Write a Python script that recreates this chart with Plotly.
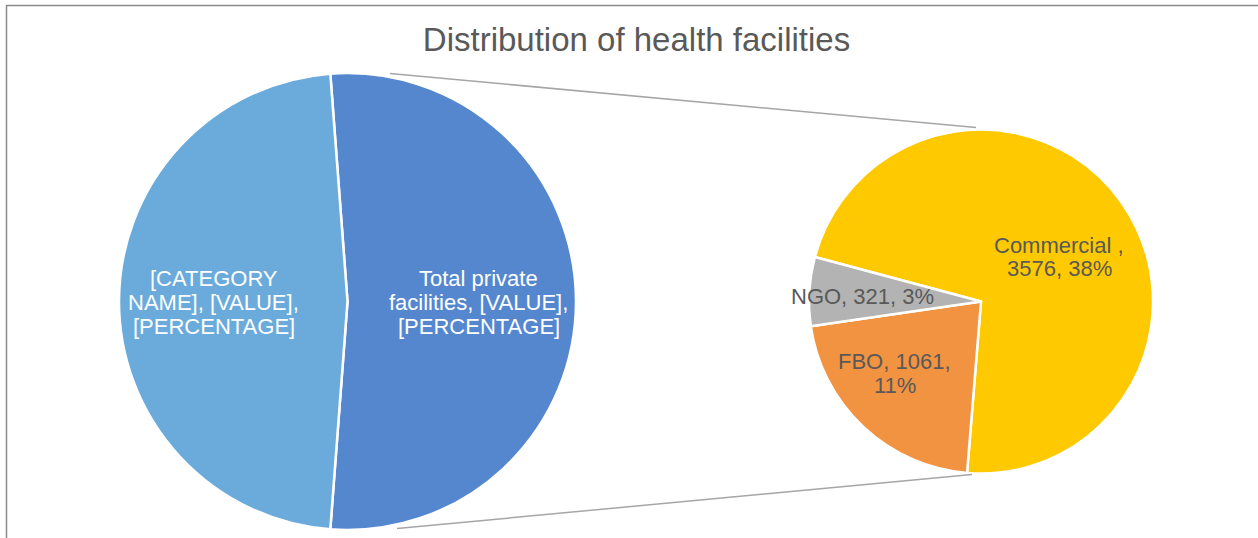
import plotly.graph_objects as go

# ---- data ----
main_labels = ["Total private facilities", "[CATEGORY NAME]"]
main_text_lines = [["Total private", "facilities, [VALUE],", "[PERCENTAGE]"],
                   ["[CATEGORY", "NAME], [VALUE],", "[PERCENTAGE]"]]
public_value = 4504
sub_labels = ["Commercial ", "FBO", "NGO"]
sub_values = [3576, 1061, 321]

private_total = sum(sub_values)
main_values = [private_total, public_value]
grand_total = sum(main_values)

W, H = 1258, 538
def px(x): return x / W
def py(y): return 1 - y / H

main_colors = ["#5587CF", "#6AABDC"]
sub_colors = ["#FFC900", "#F29342", "#B3B3B3"]
FONT = "Liberation Sans, Arial, sans-serif"

# pie geometry (pixels)
L_x0, L_x1, L_y0, L_y1 = 119, 576, 73, 530
R_x0, R_x1, R_y0, R_y1 = 809, 1153, 129.5, 473.5

private_share = private_total / grand_total
fig = go.Figure()
fig.add_trace(go.Pie(
    labels=main_labels, values=main_values, sort=False, direction="clockwise",
    rotation=90 - 180 * private_share,
    marker=dict(colors=main_colors, line=dict(color="white", width=2.5)),
    textinfo="none", hoverinfo="label+value+percent", showlegend=False,
    domain=dict(x=[px(L_x0), px(L_x1)], y=[py(L_y1), py(L_y0)]),
))
fig.add_trace(go.Pie(
    labels=sub_labels, values=sub_values, sort=False, direction="clockwise",
    rotation=-75,
    marker=dict(colors=sub_colors, line=dict(color="white", width=2.5)),
    textinfo="none", hoverinfo="label+value", showlegend=False,
    domain=dict(x=[px(R_x0), px(R_x1)], y=[py(R_y1), py(R_y0)]),
))

annotations = []

def add_lines(lines, cx, cy, spacing, color):
    n = len(lines)
    for i, ln in enumerate(lines):
        y = cy + (i - (n - 1) / 2) * spacing
        annotations.append(dict(x=px(cx), y=py(y), xref="paper", yref="paper", text=ln,
                                showarrow=False, align="center", xanchor="center", yanchor="middle",
                                font=dict(family=FONT, size=22, color=color)))

# left pie labels
left_pos = [(478.5, 302), (213.5, 302)]
for lines, (x, y) in zip(main_text_lines, left_pos):
    add_lines(lines, x, y, 24, "white")

# right pie labels
sub_pos = [(1059, 256.5), (894.5, 373.5), (863, 297)]
for lab, v, (x, y) in zip(sub_labels, sub_values, sub_pos):
    pct = round(v / grand_total * 100)
    if lab.strip() == "Commercial":
        lines = [f"{lab},", f"{v}, {pct}%"]
    elif lab == "FBO":
        lines = [f"{lab}, {v},", f"{pct}%"]
    else:
        lines = [f"{lab}, {v}, {pct}%"]
    add_lines(lines, x, y, 23, "#595959")

shapes = [
    dict(type="line", xref="paper", yref="paper", x0=px(390), y0=py(73.5), x1=px(976), y1=py(127.5),
         line=dict(color="#A6A6A6", width=1.5)),
    dict(type="line", xref="paper", yref="paper", x0=px(397), y0=py(528.5), x1=px(972), y1=py(474.5),
         line=dict(color="#A6A6A6", width=1.5)),
    dict(type="rect", xref="paper", yref="paper", x0=px(6.5), y0=-0.05, x1=1.05, y1=py(5.5),
         line=dict(color="#8A8A8A", width=1.5), fillcolor="rgba(0,0,0,0)"),
]

fig.update_layout(
    width=W, height=H, margin=dict(l=0, r=0, t=0, b=0),
    paper_bgcolor="white", plot_bgcolor="white",
    title=dict(text="Distribution of health facilities", x=px(636.5), xanchor="center",
               y=py(39), yanchor="middle",
               font=dict(family=FONT, size=33, color="#595959")),
    annotations=annotations, shapes=shapes,
)
fig.write_html("out.html", config={"displayModeBar": False},
               post_script="document.body.style.margin='0';document.body.style.padding='0';")
